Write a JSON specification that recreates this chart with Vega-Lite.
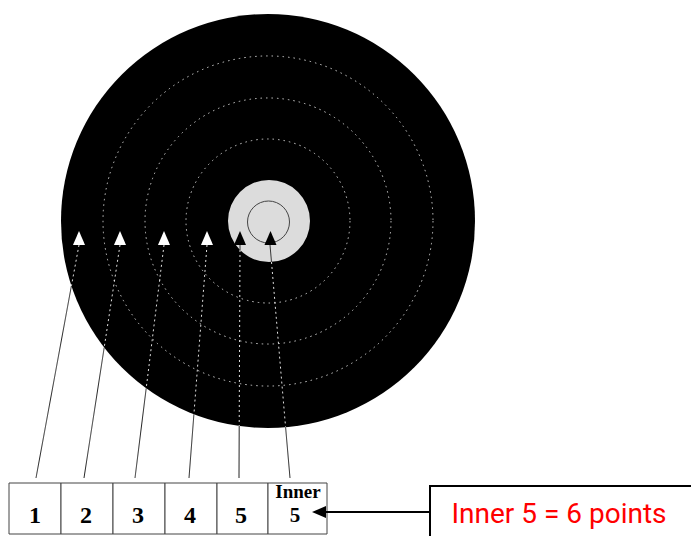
{
  "$schema": "https://vega.github.io/schema/vega-lite/v6.json",
  "width": 691,
  "height": 536,
  "autosize": "none",
  "padding": 0,
  "background": "white",
  "config": {"view": {"stroke": null}},
  "resolve": {"scale": {"color": "independent", "size": "independent", "strokeDash": "independent"}},
  "datasets": {
    "discs": [
      {"ring": "outer", "cx": 268, "cy": 221, "r": 207},
      {"ring": "centre", "cx": 269, "cy": 221, "r": 41}
    ],
    "ringlines": [
      {"ring": "2", "cx": 268, "cy": 221, "r": 165},
      {"ring": "3", "cx": 268, "cy": 221, "r": 123},
      {"ring": "4", "cx": 268, "cy": 221, "r": 82}
    ],
    "innerring": [
      {"ring": "inner", "cx": 268.5, "cy": 222, "r": 21}
    ],
    "leaders": [
      {"arrow": "1", "part": "inside", "x": 79, "y": 245, "x2": 71.4, "y2": 285.9},
      {"arrow": "1", "part": "outside", "x": 71.4, "y": 285.9, "x2": 36, "y2": 478},
      {"arrow": "2", "part": "inside", "x": 120, "y": 245, "x2": 104.2, "y2": 347.5},
      {"arrow": "2", "part": "outside", "x": 104.2, "y": 347.5, "x2": 84, "y2": 478},
      {"arrow": "3", "part": "inside", "x": 164, "y": 245, "x2": 146.2, "y2": 388.3},
      {"arrow": "3", "part": "outside", "x": 146.2, "y": 388.3, "x2": 135, "y2": 478},
      {"arrow": "4", "part": "inside", "x": 207, "y": 245, "x2": 193.9, "y2": 414.3},
      {"arrow": "4", "part": "outside", "x": 193.9, "y": 414.3, "x2": 189, "y2": 478},
      {"arrow": "5", "part": "centre", "x": 240, "y": 245, "x2": 240, "y2": 250},
      {"arrow": "5", "part": "inside", "x": 240, "y": 250, "x2": 239.2, "y2": 426},
      {"arrow": "5", "part": "outside", "x": 239.2, "y": 426, "x2": 239, "y2": 478},
      {"arrow": "Inner 5", "part": "centre", "x": 270, "y": 245, "x2": 271.5, "y2": 262},
      {"arrow": "Inner 5", "part": "inside", "x": 271.5, "y": 262, "x2": 285.6, "y2": 427.3},
      {"arrow": "Inner 5", "part": "outside", "x": 285.6, "y": 427.3, "x2": 290, "y2": 478}
    ],
    "heads": [
      {"arrow": "1", "zone": "black", "x": 79, "y": 238},
      {"arrow": "2", "zone": "black", "x": 120, "y": 238},
      {"arrow": "3", "zone": "black", "x": 164, "y": 238},
      {"arrow": "4", "zone": "black", "x": 207, "y": 238},
      {"arrow": "5", "zone": "gold", "x": 240, "y": 238},
      {"arrow": "Inner 5", "zone": "gold", "x": 270.5, "y": 238}
    ],
    "cells": [
      {"label": "1", "x": 9, "x2": 61, "y": 483, "y2": 534},
      {"label": "2", "x": 61, "x2": 113, "y": 483, "y2": 534},
      {"label": "3", "x": 113, "x2": 165, "y": 483, "y2": 534},
      {"label": "4", "x": 165, "x2": 217, "y": 483, "y2": 534},
      {"label": "5", "x": 217, "x2": 268, "y": 483, "y2": 534},
      {"label": "Inner 5", "x": 268, "x2": 327, "y": 483, "y2": 534}
    ],
    "digits": [
      {"t": "1", "x": 35, "y": 523},
      {"t": "2", "x": 86, "y": 523},
      {"t": "3", "x": 138, "y": 523},
      {"t": "4", "x": 190, "y": 523},
      {"t": "5", "x": 241, "y": 523}
    ],
    "innerword": [
      {"t": "Inner", "x": 298, "y": 498}
    ],
    "innerdigit": [
      {"t": "5", "x": 295, "y": 522}
    ],
    "pointer": [
      {"x": 325, "y": 512, "x2": 431, "y2": 512}
    ],
    "pointerhead": [
      {"x": 319, "y": 512}
    ],
    "note": [
      {"x": 430, "x2": 700, "y": 486, "y2": 545}
    ],
    "notetext": [
      {"t": "Inner 5 = 6 points", "x": 559, "y": 523}
    ]
  },
  "encoding": {
    "x": {"field": "x", "type": "quantitative", "scale": {"domain": [0, 691], "range": [0, 691], "nice": false, "zero": false}, "axis": null},
    "y": {"field": "y", "type": "quantitative", "scale": {"domain": [0, 536], "range": [0, 536], "nice": false, "zero": false}, "axis": null}
  },
  "layer": [
    {
      "data": {"name": "discs"},
      "mark": {"type": "point", "shape": "circle", "filled": true, "opacity": 1, "strokeWidth": 0},
      "encoding": {
        "x": {"field": "cx", "type": "quantitative"},
        "y": {"field": "cy", "type": "quantitative"},
        "size": {"field": "r", "type": "quantitative", "scale": {"type": "pow", "exponent": 2, "domain": [0, 207], "range": [0, 171396]}, "legend": null},
        "color": {"field": "ring", "type": "nominal", "scale": {"domain": ["outer", "centre"], "range": ["#000000", "#dcdcdc"]}, "legend": null}
      }
    },
    {
      "data": {"name": "ringlines"},
      "mark": {"type": "point", "shape": "circle", "filled": false, "opacity": 0.8, "stroke": "#ffffff", "strokeWidth": 1, "strokeDash": [1.5, 4]},
      "encoding": {
        "x": {"field": "cx", "type": "quantitative"},
        "y": {"field": "cy", "type": "quantitative"},
        "size": {"field": "r", "type": "quantitative", "scale": {"type": "pow", "exponent": 2, "domain": [0, 207], "range": [0, 171396]}, "legend": null}
      }
    },
    {
      "data": {"name": "innerring"},
      "mark": {"type": "point", "shape": "circle", "filled": false, "opacity": 1, "stroke": "#444444", "strokeWidth": 1},
      "encoding": {
        "x": {"field": "cx", "type": "quantitative"},
        "y": {"field": "cy", "type": "quantitative"},
        "size": {"field": "r", "type": "quantitative", "scale": {"type": "pow", "exponent": 2, "domain": [0, 21], "range": [0, 1764]}, "legend": null}
      }
    },
    {
      "data": {"name": "leaders"},
      "mark": {"type": "rule", "strokeWidth": 1},
      "encoding": {
        "x2": {"field": "x2"},
        "y2": {"field": "y2"},
        "color": {"field": "part", "type": "nominal", "scale": {"domain": ["inside", "outside", "centre"], "range": ["#e0e0e0", "#222222", "#333333"]}, "legend": null},
        "strokeDash": {"field": "part", "type": "nominal", "scale": {"domain": ["inside", "outside", "centre"], "range": [[2, 3], [1, 0], [1, 0]]}, "legend": null}
      }
    },
    {
      "data": {"name": "heads"},
      "mark": {"type": "point", "shape": "M0,-1L0.86,1L-0.86,1Z", "filled": true, "opacity": 1, "size": 196, "strokeWidth": 0},
      "encoding": {
        "color": {"field": "zone", "type": "nominal", "scale": {"domain": ["black", "gold"], "range": ["#ffffff", "#000000"]}, "legend": null}
      }
    },
    {
      "data": {"name": "cells"},
      "mark": {"type": "rect", "fill": "#ffffff", "stroke": "#444444", "strokeWidth": 1},
      "encoding": {
        "x2": {"field": "x2"},
        "y2": {"field": "y2"}
      }
    },
    {
      "data": {"name": "digits"},
      "mark": {"type": "text", "font": "Liberation Serif", "fontWeight": "bold", "fontSize": 24, "align": "center", "baseline": "alphabetic", "color": "#000000"},
      "encoding": {"text": {"field": "t"}}
    },
    {
      "data": {"name": "innerword"},
      "mark": {"type": "text", "font": "Liberation Serif", "fontWeight": "bold", "fontSize": 19, "align": "center", "baseline": "alphabetic", "color": "#000000"},
      "encoding": {"text": {"field": "t"}}
    },
    {
      "data": {"name": "innerdigit"},
      "mark": {"type": "text", "font": "Liberation Serif", "fontWeight": "bold", "fontSize": 21, "align": "center", "baseline": "alphabetic", "color": "#000000"},
      "encoding": {"text": {"field": "t"}}
    },
    {
      "data": {"name": "pointer"},
      "mark": {"type": "rule", "strokeWidth": 2, "color": "#000000"},
      "encoding": {"x2": {"field": "x2"}, "y2": {"field": "y2"}}
    },
    {
      "data": {"name": "pointerhead"},
      "mark": {"type": "point", "shape": "M-1,0L1,-0.85L1,0.85Z", "filled": true, "opacity": 1, "size": 196, "color": "#000000", "strokeWidth": 0}
    },
    {
      "data": {"name": "note"},
      "mark": {"type": "rect", "fill": "#ffffff", "stroke": "#000000", "strokeWidth": 2},
      "encoding": {"x2": {"field": "x2"}, "y2": {"field": "y2"}}
    },
    {
      "data": {"name": "notetext"},
      "mark": {"type": "text", "font": "Roboto", "fontSize": 28, "align": "center", "baseline": "alphabetic", "color": "#ff0000"},
      "encoding": {"text": {"field": "t"}}
    }
  ]
}
